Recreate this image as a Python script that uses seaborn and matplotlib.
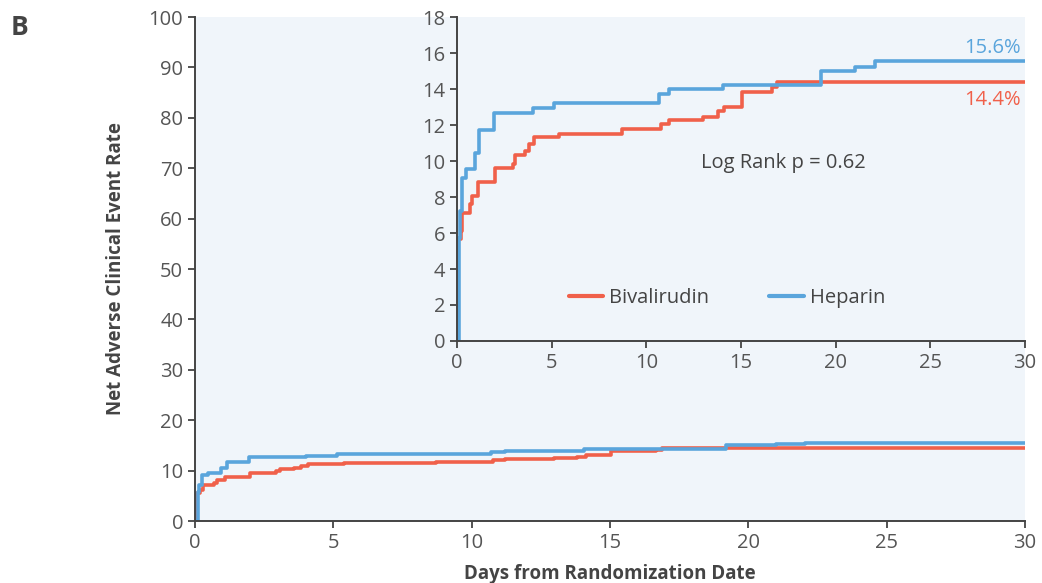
import matplotlib
matplotlib.use('Agg')
import matplotlib.pyplot as plt
import seaborn as sns
import pandas as pd

# step points (day, cumulative event rate %)
biv_days = [0, 0.07, 0.19, 0.28, 0.69, 0.78, 1.09, 2.0, 2.94, 3.06, 3.59, 3.82,
            4.07, 5.4, 8.7, 10.77, 11.21, 12.98, 13.8, 14.12, 15.03, 16.65, 16.9, 30]
biv_rate = [0, 5.65, 6.1, 7.13, 7.6, 8.08, 8.82, 9.61, 9.85, 10.31, 10.53, 10.94,
            11.36, 11.51, 11.79, 12.04, 12.28, 12.47, 12.78, 13.02, 13.85, 14.13, 14.4, 14.4]
hep_days = [0, 0.1, 0.15, 0.25, 0.48, 0.95, 1.16, 1.97, 4.03, 5.14, 10.69, 11.21,
            14.05, 19.2, 21.0, 22.06, 30]
hep_rate = [0, 5.7, 7.2, 9.06, 9.56, 10.44, 11.73, 12.69, 12.93, 13.24, 13.7, 13.98,
            14.22, 15.0, 15.23, 15.55, 15.55]

arms = ['Bivalirudin', 'Heparin']
colors = {'Bivalirudin': '#f0604a', 'Heparin': '#5aa5dc'}
final_labels = {'Bivalirudin': '14.4%', 'Heparin': '15.6%'}

df = pd.concat([
    pd.DataFrame({'day': biv_days, 'rate': biv_rate, 'arm': 'Bivalirudin'}),
    pd.DataFrame({'day': hep_days, 'rate': hep_rate, 'arm': 'Heparin'}),
])

sns.set_style('ticks')
plt.rcParams['font.family'] = ['Open Sans', 'DejaVu Sans']
grey = '#444444'
bg = '#f0f5fa'
fs = 14.5

fig = plt.figure(figsize=(10.42, 5.83), dpi=100)
ax = fig.add_axes([0.1871, 0.1063, 0.7965, 0.8645])
ins = fig.add_axes([0.4386, 0.4151, 0.5451, 0.5557])

for a in (ax, ins):
    sns.lineplot(data=df, x='day', y='rate', hue='arm', hue_order=arms, palette=colors,
                 drawstyle='steps-post', estimator=None, sort=False, linewidth=2.6,
                 ax=a, legend=(a is ins))
    a.set_facecolor(bg)
    a.set_xlim(0, 30)
    a.set_xticks(range(0, 31, 5))
    for s in ('top', 'right'):
        a.spines[s].set_visible(False)
    for s in ('left', 'bottom'):
        a.spines[s].set_color(grey)
        a.spines[s].set_linewidth(1.4)
    a.tick_params(colors=grey, labelcolor='#555555', labelsize=fs, width=1.3, length=5)

ax.set_ylim(0, 100)
ax.set_yticks(range(0, 101, 10))
ax.set_xlabel('Days from Randomization Date', fontsize=13.5, fontweight='bold',
              color=grey, labelpad=8)
ax.set_ylabel('Net Adverse Clinical Event Rate', fontsize=13.5, fontweight='bold',
              color=grey, labelpad=16)

ins.set_ylim(0, 18)
ins.set_yticks(range(0, 19, 2))
ins.set_xlabel('')
ins.set_ylabel('')
ins.text(12.9, 9.9, 'Log Rank p = 0.62', fontsize=fs, color=grey, va='center')
ins.text(29.8, 16.3, final_labels['Heparin'], fontsize=fs, color=colors['Heparin'],
         ha='right', va='center')
ins.text(29.8, 13.4, final_labels['Bivalirudin'], fontsize=fs, color=colors['Bivalirudin'],
         ha='right', va='center')
leg = ins.legend(loc='center', bbox_to_anchor=(0.475, 0.133), ncol=2, frameon=False,
                 fontsize=fs, handlelength=1.7, handletextpad=0.3, columnspacing=3.0)
for t in leg.get_texts():
    t.set_color(grey)
for h in leg.get_lines():
    h.set_linewidth(3)

fig.text(0.01, 0.952, 'B', fontsize=19, fontweight='bold', color=grey, va='center')

fig.savefig('out.png', dpi=100)
